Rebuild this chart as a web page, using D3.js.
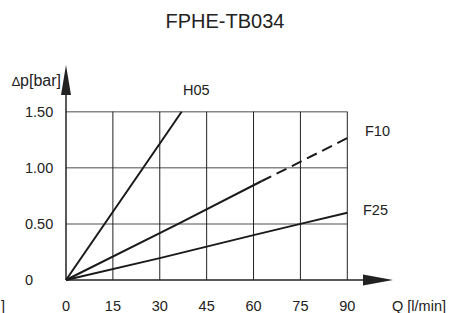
<!DOCTYPE html>
<html lang="en">
<head>
    <meta charset="UTF-8">
    <title>FPHE-TB034</title>
    <script src="https://d3js.org/d3.v7.min.js"></script>
    <style>
        body {
            margin: 0;
            background-color: #ffffff;
            font-family: "Liberation Sans", Arial, sans-serif;
        }
        svg {
            display: block;
        }
        text {
            fill: #222;
        }
    </style>
</head>
<body>

<svg width="453" height="313"></svg>

<script>
    // Data
    const xTicks = [0, 15, 30, 45, 60, 75, 90];
    const yTicks = [0, 0.5, 1.0, 1.5];
    const yTickLabels = ["0", "0.50", "1.00", "1.50"];

    // Q [l/min] vs dp [bar]
    const h05 = [[0, 0], [24.7, 1.0], [37, 1.5]];
    const f10Solid = [[0, 0], [35.9, 0.5], [62.5, 0.88]];
    const f10Dashed = [[62.5, 0.88], [72.6, 1.02], [90, 1.265]];
    const f25 = [[0, 0], [30, 0.195], [60, 0.4], [75, 0.5], [90, 0.6]];

    const svg = d3.select("svg");

    const x = d3.scaleLinear().domain([0, 90]).range([66, 347.3]);
    const y = d3.scaleLinear().domain([0, 1.5]).range([280, 111.7]);

    // Title
    svg.append("text")
        .attr("x", 225)
        .attr("y", 28)
        .attr("text-anchor", "middle")
        .style("font-size", "20px")
        .text("FPHE-TB034");

    // Horizontal grid lines (grey)
    svg.selectAll(".hgrid")
        .data(yTicks.filter(d => d > 0))
        .enter()
        .append("line")
        .attr("x1", x(0))
        .attr("x2", x(90))
        .attr("y1", d => y(d))
        .attr("y2", d => y(d))
        .attr("stroke", "#888")
        .attr("stroke-width", 1.5);

    // Vertical grid lines (black)
    svg.selectAll(".vgrid")
        .data(xTicks.filter(d => d > 0))
        .enter()
        .append("line")
        .attr("x1", d => x(d))
        .attr("x2", d => x(d))
        .attr("y1", y(0))
        .attr("y2", y(1.5))
        .attr("stroke", "#222")
        .attr("stroke-width", 1);

    // Axes with arrows
    const xEnd = 393, yEnd = 65;
    svg.append("line")
        .attr("x1", x(0)).attr("x2", xEnd - 20)
        .attr("y1", y(0)).attr("y2", y(0))
        .attr("stroke", "#222").attr("stroke-width", 1.5);
    svg.append("line")
        .attr("x1", x(0)).attr("x2", x(0))
        .attr("y1", y(0)).attr("y2", yEnd + 20)
        .attr("stroke", "#222").attr("stroke-width", 1.5);

    svg.append("path")
        .attr("d", `M${xEnd},${y(0)} L${xEnd - 30},${y(0) - 5.5} L${xEnd - 30},${y(0) + 5.5} Z`)
        .attr("fill", "#222");
    svg.append("path")
        .attr("d", `M${x(0)},${yEnd} L${x(0) - 5},${yEnd + 30} L${x(0) + 5},${yEnd + 30} Z`)
        .attr("fill", "#222");

    // Tick labels
    svg.selectAll(".xlab")
        .data(xTicks)
        .enter()
        .append("text")
        .attr("x", d => x(d))
        .attr("y", 311)
        .attr("text-anchor", "middle")
        .style("font-size", "14.5px")
        .text(d => d);

    svg.selectAll(".ylab")
        .data(yTicks)
        .enter()
        .append("text")
        .attr("x", 25)
        .attr("y", d => y(d) + 5)
        .style("font-size", "14.5px")
        .text((d, i) => yTickLabels[i]);

    // Axis titles
    svg.append("text")
        .attr("x", 61)
        .attr("y", 86)
        .attr("text-anchor", "end")
        .style("font-size", "16px")
        .html('<tspan style="font-size:13px">\u2206</tspan>p[bar]');

    svg.append("text")
        .attr("x", 392)
        .attr("y", 311)
        .style("font-size", "14.5px")
        .text("Q [l/min]");

    // fragment cut at the left edge
    svg.append("text")
        .attr("x", 5)
        .attr("y", 311)
        .attr("text-anchor", "end")
        .style("font-size", "14.5px")
        .text("]");

    // Curves
    const line = d3.line().x(d => x(d[0])).y(d => y(d[1]));

    const curves = [
        { data: h05, dash: null },
        { data: f10Solid, dash: null },
        { data: f10Dashed, dash: "11,6" },
        { data: f25, dash: null }
    ];

    svg.selectAll(".curve")
        .data(curves)
        .enter()
        .append("path")
        .attr("d", d => line(d.data))
        .attr("fill", "none")
        .attr("stroke", "#1a1a1a")
        .attr("stroke-width", 2)
        .attr("stroke-dasharray", d => d.dash);

    // Curve labels
    const labels = [
        { text: "H05", x: 183, y: 95 },
        { text: "F10", x: 365, y: 136 },
        { text: "F25", x: 363, y: 215 }
    ];
    svg.selectAll(".clab")
        .data(labels)
        .enter()
        .append("text")
        .attr("x", d => d.x)
        .attr("y", d => d.y)
        .style("font-size", "14.5px")
        .text(d => d.text);
</script>

</body>
</html>
